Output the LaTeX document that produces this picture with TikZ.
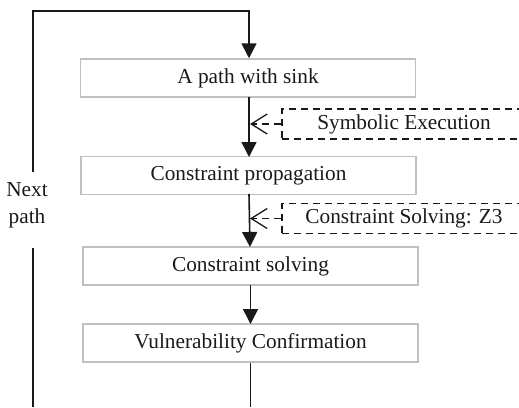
\documentclass[tikz,border=0pt]{standalone}
\usepackage{fontspec}
\setmainfont{Liberation Serif}
\usetikzlibrary{arrows.meta}
\definecolor{boxgray}{RGB}{192,192,192}
\definecolor{ink}{RGB}{25,25,25}
\begin{document}
\begin{tikzpicture}[x=1pt,y=-1pt,
  every node/.style={font=\fontsize{21.3}{27}\selectfont, text=ink},
  stepbox/.style={draw=boxgray, line width=1.5pt, rectangle, inner sep=0pt, minimum width=335pt, minimum height=38pt},
  toolbox/.style={draw=ink, line width=1.3pt, dash pattern=on 7pt off 5pt, rectangle, inner sep=0pt, minimum width=244pt, minimum height=30pt},
  flow/.style={draw=ink, line width=1.6pt},
  flowarrow/.style={flow, -{Triangle[length=15pt,width=15pt]}},
  feed/.style={draw=ink, line width=1.3pt, dash pattern=on 7pt off 5pt, -{Straight Barb[length=16pt,width=20pt,line width=1.3pt]}}
]
\useasboundingbox (0,0) rectangle (519,407);
\clip (0,0) rectangle (519,407);
\node[stepbox] (b1) at (248,78) {A path with sink};
\node[stepbox] (b2) at (248.5,175.5) {Constraint propagation};
\node[stepbox] (b3) at (250.5,266) {Constraint solving};
\node[stepbox] (b4) at (250.5,343) {Vulnerability Confirmation};
\node[toolbox] (se) at (404,124) {Symbolic Execution};
\node[toolbox] (cs) at (404,218.5) {Constraint Solving: Z3};
\node[align=center] (np) at (27,205) {Next\\path};
\coordinate (lb) at (33,407);
\coordinate (mb) at (250.5,407);
\coordinate (tl) at (33,11);
\coordinate (tr) at (249,11);
\coordinate (gap1) at (33,172);
\coordinate (gap2) at (33,248);
\draw[flowarrow] (gap1) -- (tl) -- (tr) -- (tr |- b1.north);
\draw[flow] (lb) -- (gap2);
\draw[flowarrow] (249,97) -- (249,157);
\draw[flowarrow] (249,194) -- (250,247);
\draw[flowarrow] (250.5,285) -- (250.5,324);
\draw[flow] (b4.south) -- (mb);
\draw[feed] (se.west) -- (250,124);
\draw[feed] (cs.west) -- (250,218.5);
\end{tikzpicture}
\end{document}
